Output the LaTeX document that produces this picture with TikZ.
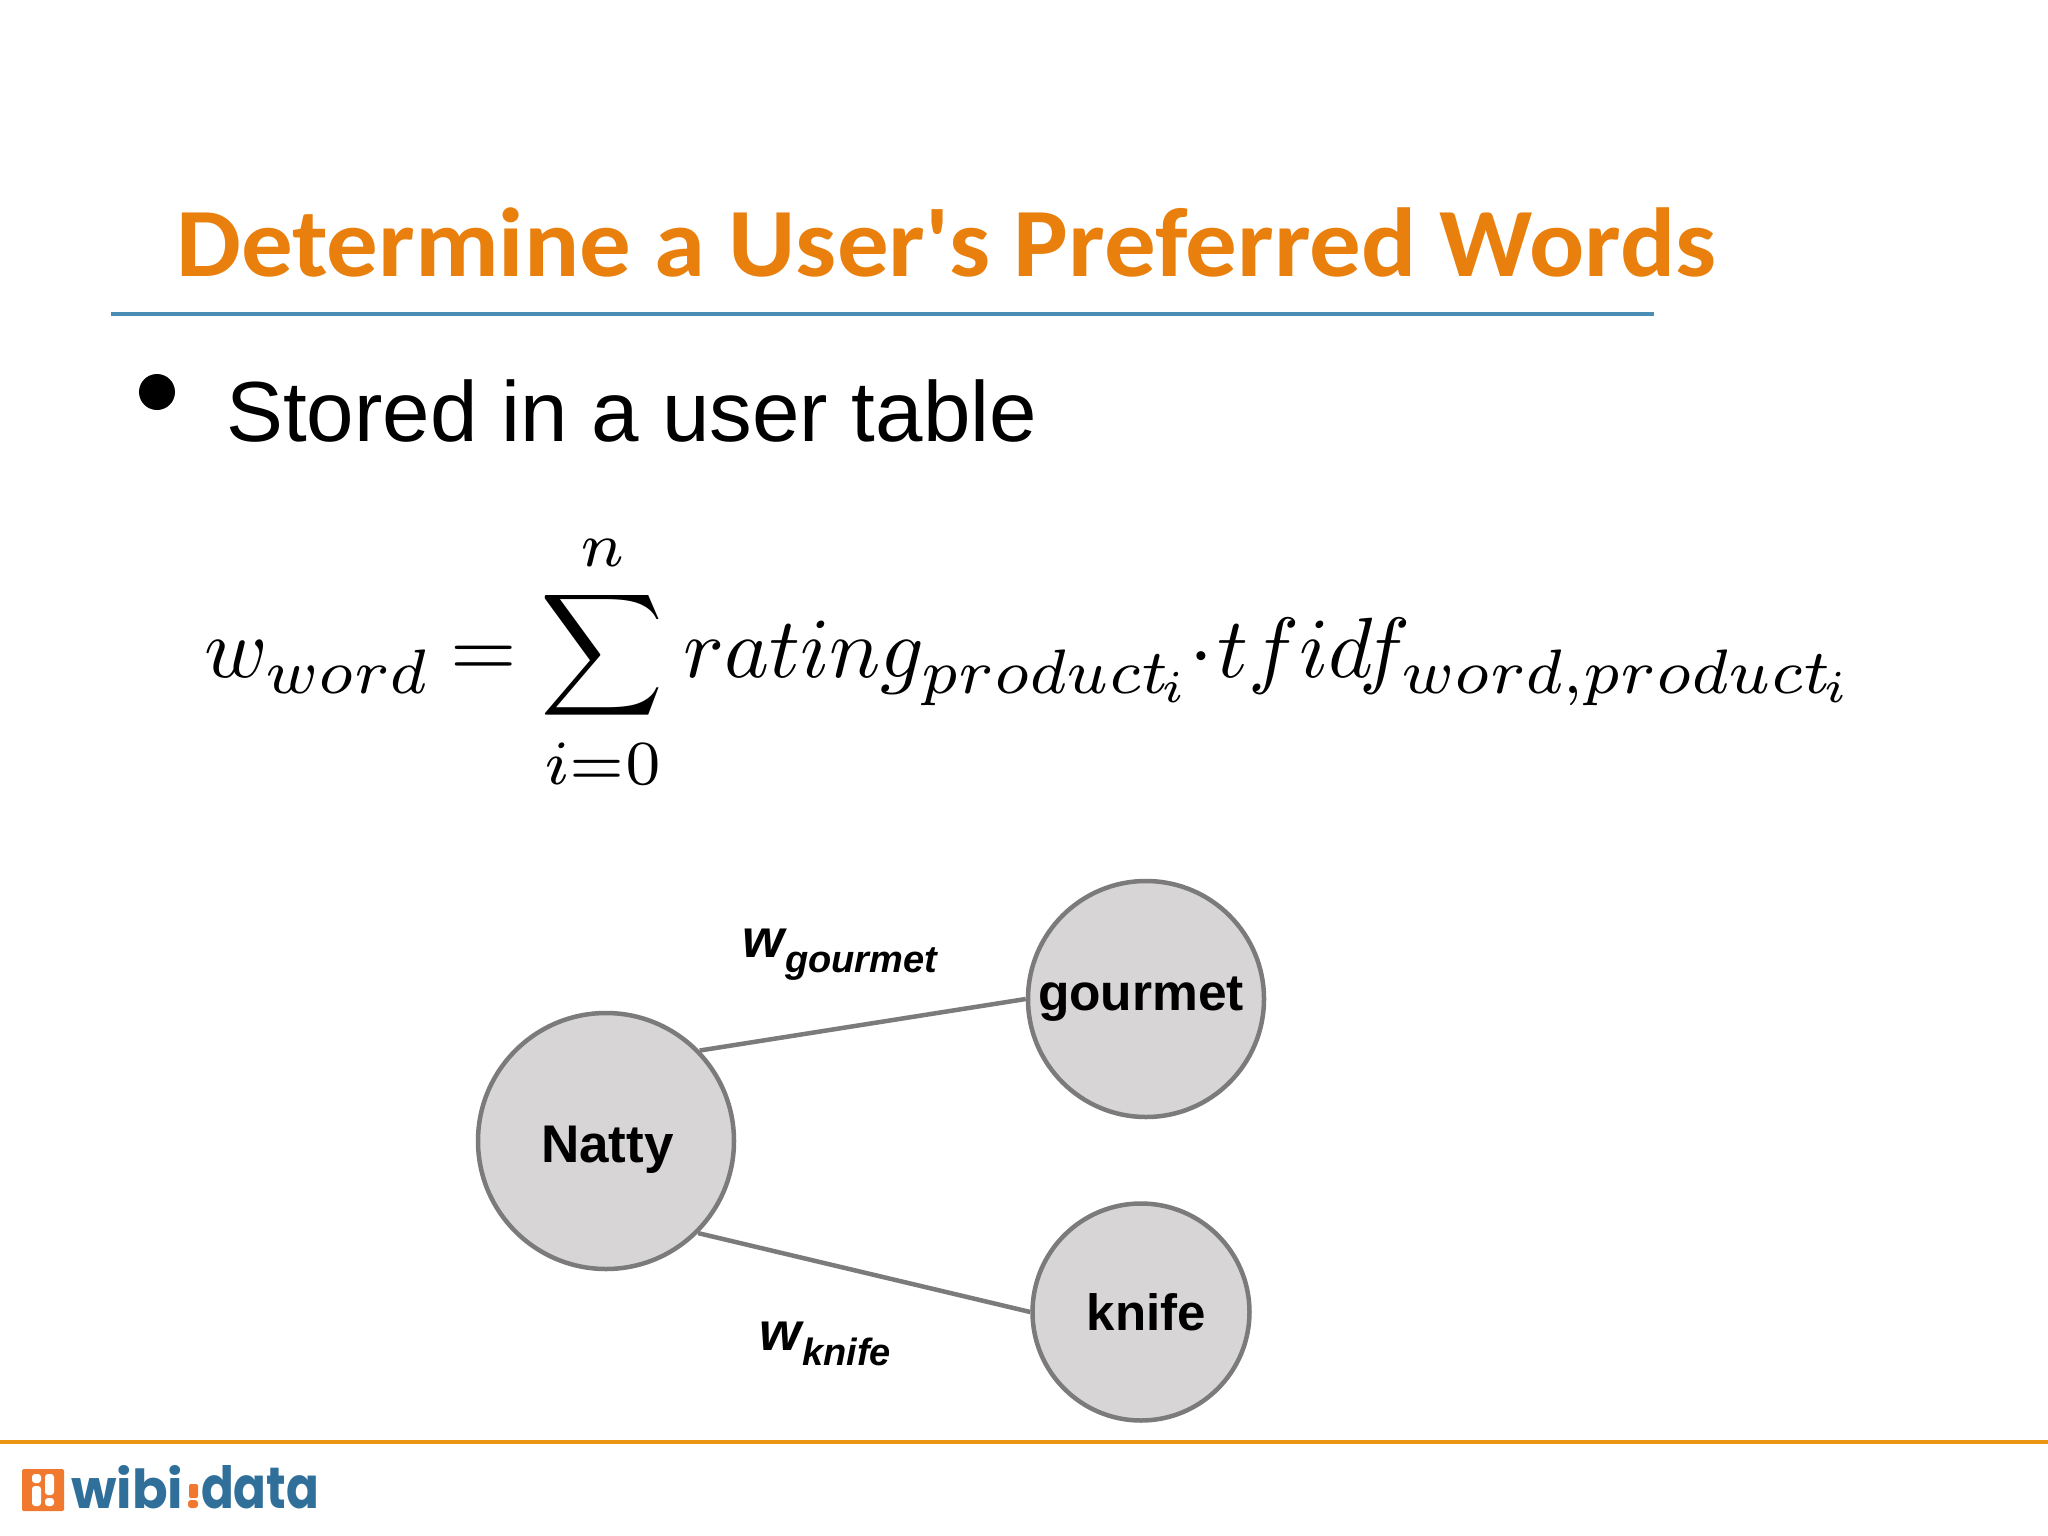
\RequirePackage{fix-cm}
\documentclass[tikz,border=0pt]{standalone}
\usepackage[no-math]{fontspec}
\usepackage{graphicx}
\DeclareMathSizes{10}{10}{7.35}{5.3}
\newfontfamily\arialf{Liberation Sans}
\newfontfamily\titlef{Carlito}
\newfontfamily\logof{Poppins}
\definecolor{titleorange}{HTML}{E97F0C}
\definecolor{ruleblue}{HTML}{4A8DB5}
\definecolor{footorange}{HTML}{EB9512}
\definecolor{logoorange}{HTML}{F0792F}
\definecolor{logoblue}{HTML}{2F6F9A}
\definecolor{nodefill}{HTML}{D7D5D6}
\definecolor{nodeline}{HTML}{7B7B7C}
\newcommand{\shiftdown}[2]{\raisebox{-#1}[\height][\depth]{#2}}
\tikzset{
  wnode/.style={circle,draw=nodeline,line width=4.5pt,fill=nodefill,inner sep=0pt,text=black},
  wedge/.style={draw=nodeline,line width=4.5pt},
  wlabel/.style={anchor=base west,inner sep=0pt,font=\arialf\bfseries\itshape\fontsize{54}{58}\selectfont},
  wsub/.style={anchor=base west,inner sep=0pt,font=\arialf\bfseries\itshape\fontsize{38}{42}\selectfont},
  logotext/.style={anchor=base west,inner sep=0pt,text=logoblue,font=\logof\bfseries\fontsize{56}{60}\selectfont},
}
\begin{document}
\begin{tikzpicture}[x=1pt,y=-1pt]
\useasboundingbox (0,0) rectangle (2048,1536);
\fill[white] (0,0) rectangle (2048,1536);
% title
\node[anchor=base west,inner sep=0pt,text=titleorange,font=\titlef\bfseries\fontsize{98}{102}\selectfont] (title) at (176,276) {\scalebox{1.051}[1]{Determine a User's Preferred Words}};
\coordinate (ruleL) at (111,314);
\coordinate (ruleR) at (1654,314);
\draw[ruleblue,line width=4pt] (ruleL) -- (ruleR);
% bullet
\fill[black] (157,392) circle (18);
\node[anchor=base west,inner sep=0pt,font=\arialf\fontsize{85.3}{90}\selectfont] (stored) at (226,441) {Stored in a user table};
% formula
\node[anchor=base west,inner sep=0pt] (formula) at (204,677) {\fontsize{10}{12}\selectfont\resizebox{1642pt}{!}{\scriptspace=0pt$\displaystyle \fontdimen16\textfont2=1.95pt \fontdimen17\textfont2=1.95pt \fontdimen10\textfont3=2.2pt \fontdimen11\textfont3=2.4pt w_{word}=\sum_{i=0}^{n}\mskip1mu rating_{product\mskip-2mu_i}\!\cdot\! tfidf_{word,product\mskip-2mu_i}$}};
% graph
\node[wnode,minimum size=256pt,font=\arialf\bfseries\fontsize{53}{56}\selectfont] (natty) at (606,1141) {\shiftdown{9pt}{\hspace*{3pt}Natty}};
\node[wnode,minimum size=236pt,font=\arialf\bfseries\fontsize{51.5}{56}\selectfont] (gourmet) at (1146,999) {\hspace*{-10pt}gourmet};
\node[wnode,minimum size=217pt,font=\arialf\bfseries\fontsize{51}{56}\selectfont] (knife) at (1141,1312) {\hspace*{11pt}knife};
\draw[wedge] (natty.44) -- (gourmet.west);
\draw[wedge] (natty.-45) -- (knife.west);
\node[wlabel] (w1) at (742,957) {w};
\node[wsub] (w1s) at (785,972) {gourmet};
\node[wlabel] (w2) at (759,1350) {w};
\node[wsub] (w2s) at (802,1365) {knife};
% footer
\coordinate (footL) at (0,1442);
\coordinate (footR) at (2048,1442);
\draw[footorange,line width=4pt] (footL) -- (footR);
% logo
\fill[logoorange,rounded corners=1.5pt] (22,1469) rectangle (64,1511);
\fill[white,rounded corners=3pt] (32,1474) rectangle (41,1483);
\fill[white,rounded corners=3pt] (32,1486) rectangle (41,1506);
\fill[white,rounded corners=3pt] (45,1474) rectangle (54,1495);
\fill[white,rounded corners=3pt] (45,1498) rectangle (54,1506);
\node[logotext] (logoa) at (71,1508) {\resizebox{112pt}{43pt}{wibi}};
\fill[logoorange,rounded corners=2pt] (189,1484) rectangle (198,1498);
\fill[logoorange,rounded corners=3pt] (188,1500) rectangle (198,1508);
\node[logotext] (logob) at (201,1508) {\resizebox{118pt}{43pt}{data}};
\end{tikzpicture}
\end{document}
